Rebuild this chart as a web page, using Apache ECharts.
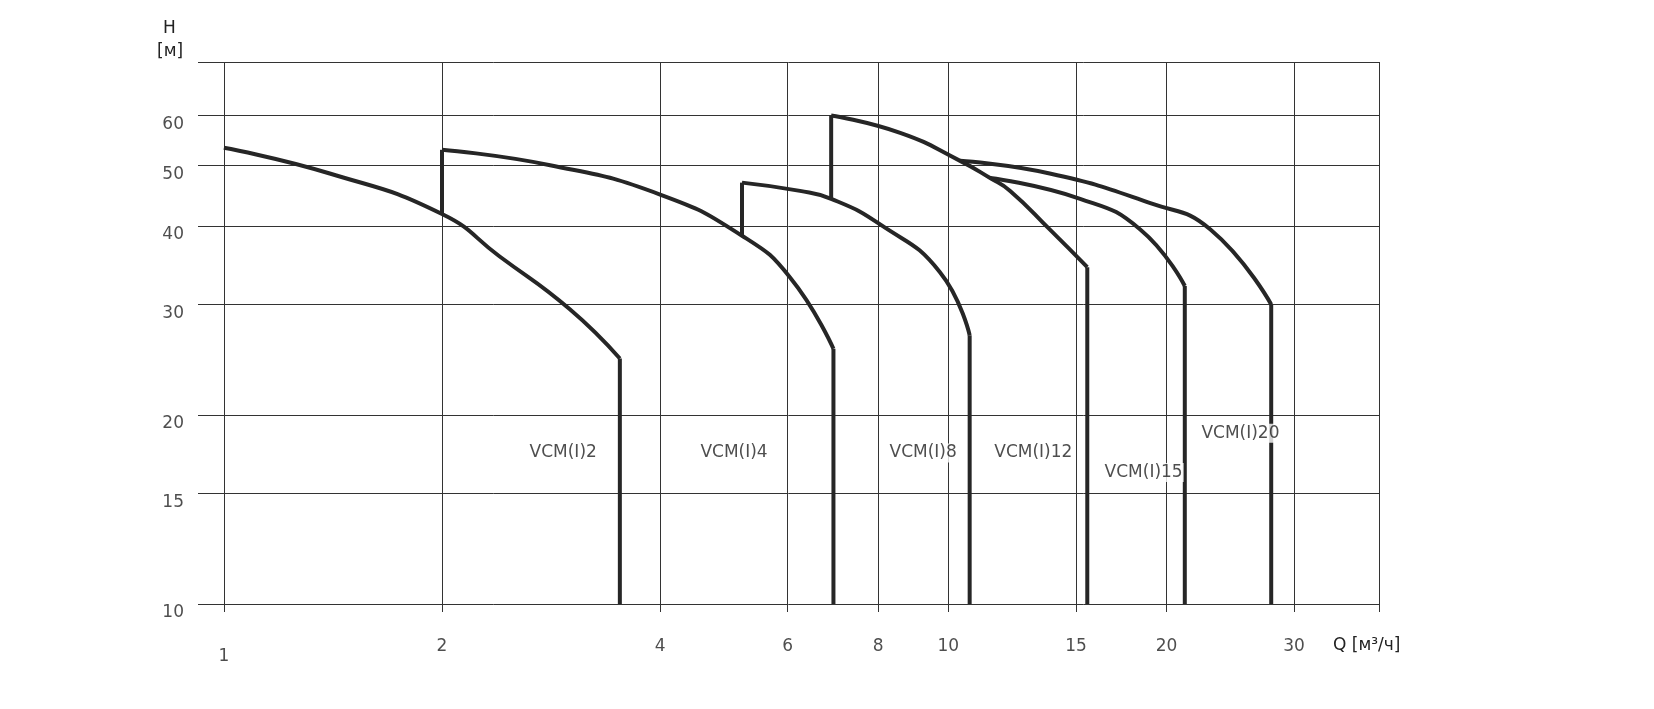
<!DOCTYPE html>
<html><head><meta charset="utf-8">
<script src="https://cdn.jsdelivr.net/npm/echarts@6/dist/echarts.min.js"></script>
<style>html,body{margin:0;padding:0;background:#fff}#c{width:1654px;height:709px}</style>
</head><body><div id="c"></div>
<script>
const xTicks=[1,2,4,6,8,10,15,20,30];
const yTicks=[10,15,20,30,40,50,60];
const vcm2=[[1,53.3],[1.4,48.5],[2,41.8],[2.4,35.8],[3.0,29.5],[3.52,24.6],[3.52,10]];
const vcm4=[[2,41.8],[2,52.9],[2.82,50],[4,44.9],[5.19,38.6],[6.05,33.1],[6.94,25.5],[6.94,10]];
const vcm8=[[5.19,38.6],[5.19,46.9],[6.24,45.5],[6.89,44.2],[8.06,40.2],[9.73,33.8],[10.7,26.8],[10.7,10]];
const vcm12=[[6.89,44.2],[6.89,60],[8.58,56.3],[10.38,50.8],[11.42,47.7],[12.17,45.5],[13.8,39.5],[15.55,34.4],[15.55,10]];
const vcm15=[[11.42,47.7],[15.2,44.2],[18.4,39.5],[21.2,32.1],[21.2,10]];
const vcm20=[[10.38,50.8],[13.8,48.5],[19.0,43.5],[23.0,39.5],[27.9,30],[27.9,10]];
const curveLabels=[["VCM(I)2",2.94,17.4],["VCM(I)4",5.06,17.4],["VCM(I)8",9.23,17.4],["VCM(I)12",13.1,17.4],["VCM(I)15",18.6,16.2],["VCM(I)20",25.3,18.7]];
const X0=0.921,X1=39.3,Y0=9.71,Y1=73;
const font='DejaVu Sans';
const gl={color:'#333',width:1,type:'solid'};
const lines=[];
yTicks.concat([Y1]).forEach(h=>lines.push([{coord:[X0,h]},{coord:[X1,h]}]));
xTicks.concat([X1]).forEach(q=>lines.push([{coord:[q,Y0]},{coord:[q,Y1]}]));
function ls(d,smooth){return {type:'line',data:d,symbol:'none',smooth:smooth?0.5:false,lineStyle:{color:'#262626',width:4},z:5,animation:false};}
function curve(d){
 const out=[];let s=0,e=d.length-1;
 if(d[0][0]===d[1][0]){out.push(ls([d[0],d[1]]));s=1;}
 if(d[e][0]===d[e-1][0]){out.push(ls([d[e-1],d[e]]));e=e-1;}
 out.push(ls(d.slice(s,e+1),true));
 return out;
}
const opt={
 animation:false,
 grid:{left:198,right:275,top:62,bottom:97},
 xAxis:{type:'log',logBase:10,min:X0,max:X1,axisLine:{show:false},axisTick:{show:false},axisLabel:{show:false},splitLine:{show:false}},
 yAxis:{type:'log',logBase:10,min:Y0,max:Y1,axisLine:{show:false},axisTick:{show:false},axisLabel:{show:false},splitLine:{show:false}},
 graphic:[
  {type:'text',left:163,top:20,style:{text:'H',font:'17px '+font,fill:'#222'}},
  {type:'text',left:157,top:43,style:{text:'[м]',font:'17px '+font,fill:'#222'}},
  {type:'text',left:1333,top:637,style:{text:'Q [м³/ч]',font:'17px '+font,fill:'#222'}}
 ],
 series:[
  {type:'line',data:[],markLine:{silent:true,symbol:'none',lineStyle:gl,label:{show:false},data:lines,animation:false}},
  {type:'scatter',symbolSize:0,data:yTicks.map(v=>[X0,v]),label:{show:true,position:'left',distance:14,offset:[0,9],formatter:p=>String(p.value[1]),fontFamily:font,fontSize:17,color:'#222'}},
  {type:'scatter',symbolSize:0,data:xTicks.map(v=>[v,Y0]),label:{show:true,position:'bottom',distance:26,formatter:p=>String(p.value[0]),fontFamily:font,fontSize:17,color:'#222'}},
  ...curve(vcm2),...curve(vcm4),...curve(vcm8),...curve(vcm12),...curve(vcm15),...curve(vcm20),
  {type:'scatter',symbolSize:0,z:10,data:curveLabels.map(l=>({value:[l[1],l[2]],name:l[0]})),label:{show:true,position:'inside',formatter:p=>p.name,fontFamily:font,fontSize:17,color:'#222',backgroundColor:'#fff',padding:[1,1]}}
 ]
};
opt.series[2].data[0]={value:[1,Y0],label:{offset:[0,10]}};
echarts.init(document.getElementById('c')).setOption(opt);
</script></body></html>
